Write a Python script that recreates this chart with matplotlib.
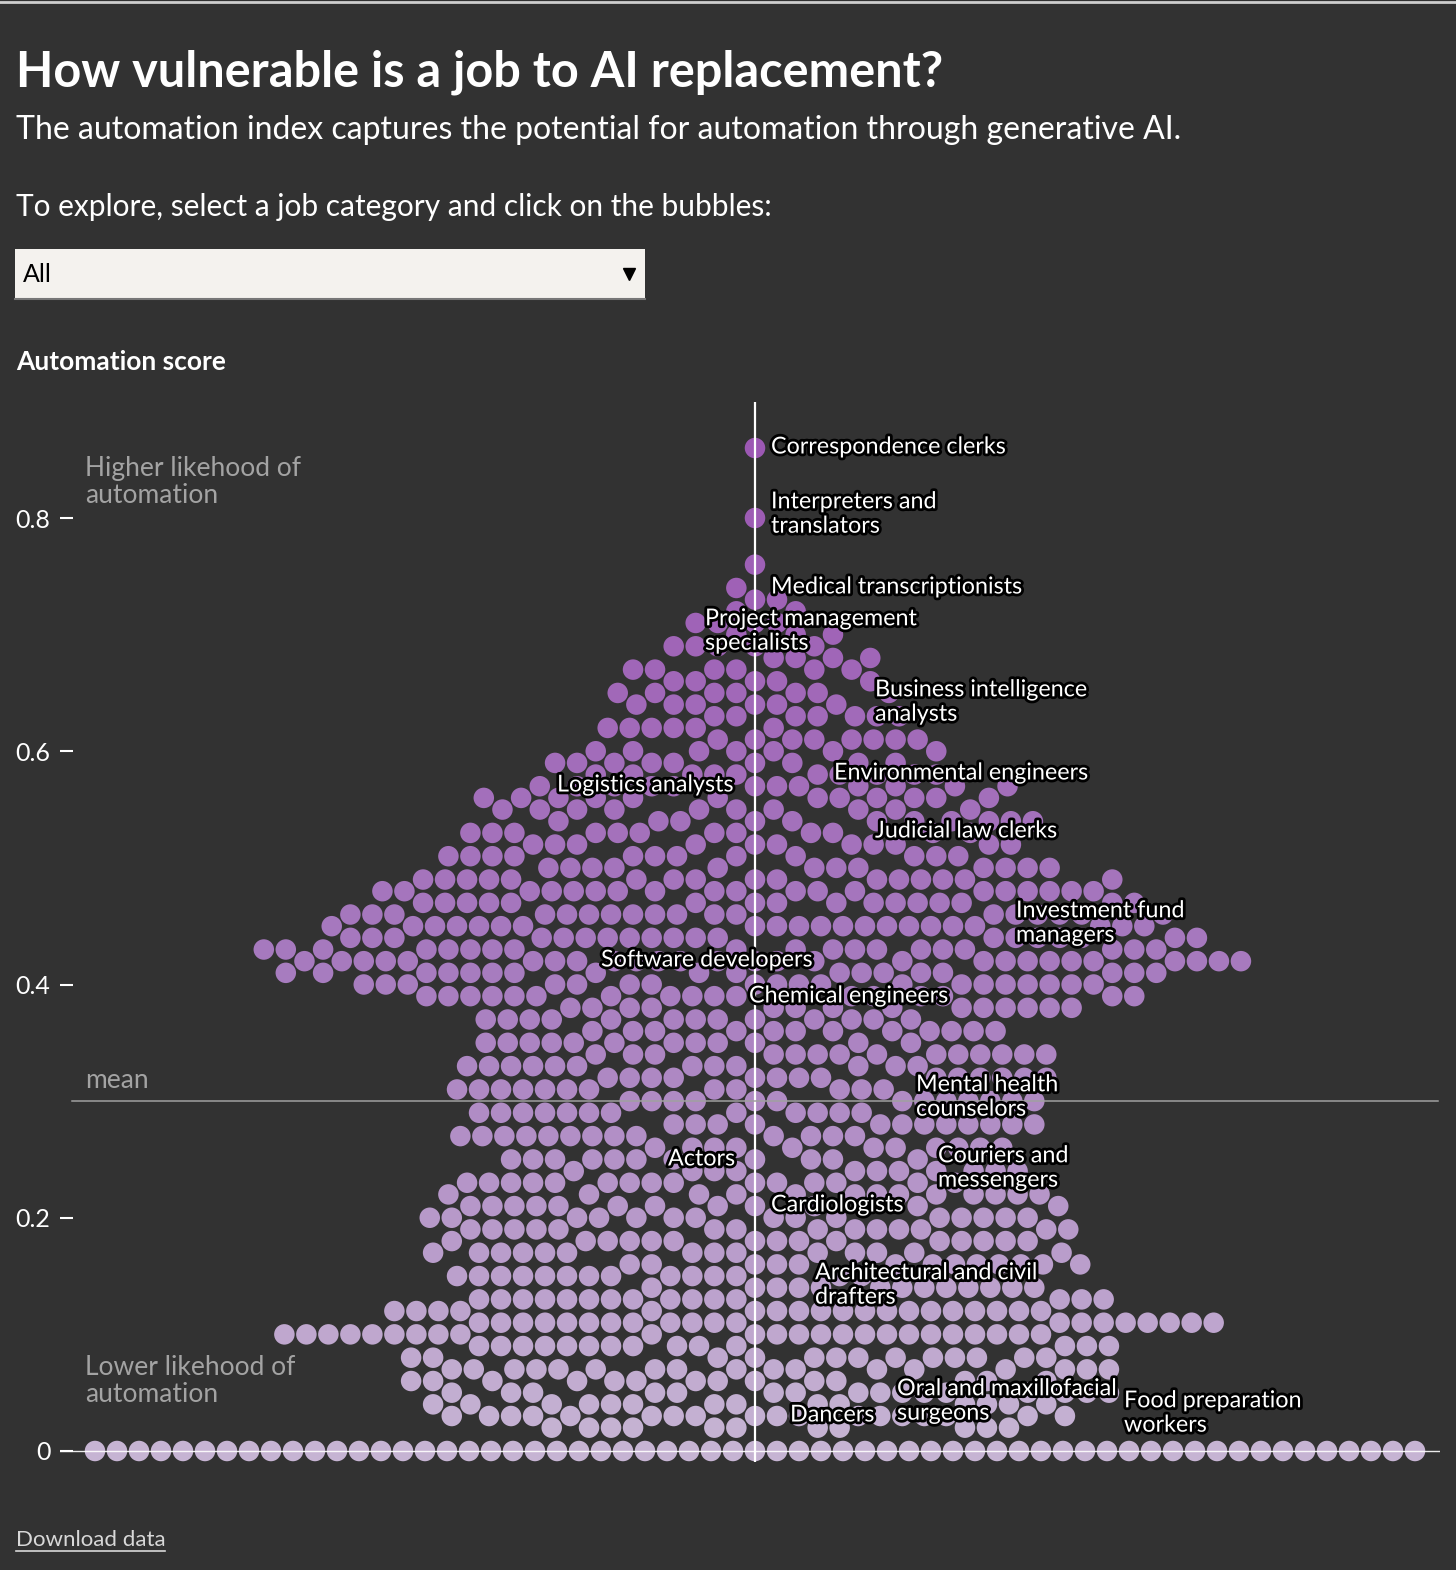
import numpy as np
import matplotlib
matplotlib.use("Agg")
import matplotlib.pyplot as plt
import matplotlib.patheffects as pe
from matplotlib.colors import LinearSegmentedColormap

# automation score levels and number of jobs at each level
scores = [0.00, 0.02, 0.03, 0.04, 0.05, 0.06, 0.07, 0.08, 0.09, 0.10,
          0.11, 0.12, 0.13, 0.14, 0.15, 0.16, 0.17, 0.18, 0.19, 0.20,
          0.21, 0.22, 0.23, 0.24, 0.25, 0.26, 0.27, 0.28, 0.29, 0.30,
          0.31, 0.32, 0.33, 0.34, 0.35, 0.36, 0.37, 0.38, 0.39, 0.40,
          0.41, 0.42, 0.43, 0.44, 0.45, 0.46, 0.47, 0.48, 0.49, 0.50,
          0.51, 0.52, 0.53, 0.54, 0.55, 0.56, 0.57, 0.58, 0.59, 0.60,
          0.61, 0.62, 0.63, 0.64, 0.65, 0.66, 0.67, 0.68, 0.69, 0.70,
          0.71, 0.72, 0.73, 0.74, 0.76, 0.80, 0.86]
counts = [61, 11, 18, 14, 16, 14, 17, 13, 14, 24,
          20, 19, 15, 13, 14, 13, 14, 15, 14, 15,
          12, 13, 15, 11, 11, 11, 13, 12, 12, 13,
          12, 14, 12, 14, 12, 12, 13, 14, 17, 19,
          18, 27, 19, 19, 21, 18, 16, 19, 16, 12,
          12, 11, 12, 11, 10, 12, 12, 10, 9, 7,
          8, 6, 7, 6, 7, 5, 6, 4, 5, 3,
          4, 2, 2, 1, 1, 1, 1]
mean_score = 0.30

yticks = [0, 0.2, 0.4, 0.6, 0.8]
ytick_labels = ["0", "0.2", "0.4", "0.6", "0.8"]

labels = [
    ("Correspondence clerks", 771, 447),
    ("Interpreters and\ntranslators", 771, 514),
    ("Medical transcriptionists", 771, 587),
    ("Project management\nspecialists", 705, 631),
    ("Business intelligence\nanalysts", 875, 702),
    ("Environmental engineers", 834, 773),
    ("Logistics analysts", 557, 785),
    ("Judicial law clerks", 875, 831),
    ("Investment fund\nmanagers", 1016, 923),
    ("Software developers", 601, 960),
    ("Chemical engineers", 749, 996),
    ("Mental health\ncounselors", 916, 1097),
    ("Couriers and\nmessengers", 938, 1168),
    ("Actors", 668, 1159),
    ("Cardiologists", 771, 1205),
    ("Architectural and civil\ndrafters", 815, 1285),
    ("Oral and maxillofacial\nsurgeons", 897, 1401),
    ("Dancers", 790, 1415),
    ("Food preparation\nworkers", 1124, 1413),
]

W, H = 1456, 1570
BG = "#323232"
FONT = "Lato"

# pixel geometry of the plot
x_center = 755
y_zero = 1451
px_per_unit = (1451 - 518) / 0.8
dot_d = 22.0


def fx(x):
    return x / W


def fy(y):
    return 1 - y / H


def swarm(y_px, order, d):
    xs = np.zeros(len(y_px))
    px, py = [], []
    for i in order:
        y = y_px[i]
        x = 0.0
        if px:
            ax_ = np.array(px)
            ay = np.array(py)
            m = np.abs(ay - y) < d
            nx, ny = ax_[m], ay[m]
            if len(nx):
                off = np.sqrt(d * d - (ny - y) ** 2)
                c = np.concatenate([[0.0], nx - off, nx + off])
                c = c[np.argsort(np.abs(c), kind="stable")]
                d2 = (c[:, None] - nx[None, :]) ** 2 + (y - ny[None, :]) ** 2
                ok = np.all(d2 >= d * d - 1e-6, axis=1)
                x = c[np.argmax(ok)]
        xs[i] = x
        px.append(x)
        py.append(y)
    return xs


job_scores = np.repeat(scores, counts)
n = len(job_scores)
order = np.argsort((np.arange(n) * 0.6180339887) % 1.0, kind="stable")
# zero-score jobs first so they line up along the baseline
order = np.concatenate([order[job_scores[order] == 0], order[job_scores[order] > 0]])
job_x = swarm(job_scores * px_per_unit, order, dot_d)

fig = plt.figure(figsize=(W / 100, H / 100), dpi=100, facecolor=BG)

ax_left, ax_right, ax_top, ax_bottom = 60, 1440, 395, 1470
ax = fig.add_axes([fx(ax_left), fy(ax_bottom), (ax_right - ax_left) / W, (ax_bottom - ax_top) / H])
ax.set_facecolor(BG)
ax.set_xlim(ax_left - x_center, ax_right - x_center)
ax.set_ylim((y_zero - ax_bottom) / px_per_unit, (y_zero - ax_top) / px_per_unit)
for s in ax.spines.values():
    s.set_visible(False)
ax.set_xticks([])
ax.set_yticks(yticks)
ax.set_yticklabels(ytick_labels)
ax.tick_params(axis="y", direction="in", length=9, width=1.5, color="white",
               labelcolor="white", labelsize=18, pad=7)
for t in ax.get_yticklabels():
    t.set_fontfamily(FONT)

cmap = LinearSegmentedColormap.from_list("purp", ["#c6b4d3", "#a679be", "#9c58b3"])
ax.scatter(job_x, job_scores, s=(20.5 * 0.72) ** 2, c=job_scores, cmap=cmap,
           vmin=0, vmax=0.86, linewidths=0, zorder=2)

ax.plot([0, 0], [(y_zero - 1462) / px_per_unit, (y_zero - 402) / px_per_unit],
        color="white", lw=1.6, zorder=3, solid_capstyle="butt")
ax.plot([72 - x_center, 1438 - x_center], [mean_score, mean_score],
        color="#a0a0a0", lw=1.1, zorder=3)
ax.plot([60 - x_center, 1440 - x_center], [0, 0], color="white", lw=1.0, alpha=0.9, zorder=3)

# chart annotations
halo = [pe.withStroke(linewidth=4, foreground="black")]
for txt, x, y in labels:
    fig.text(fx(x), fy(y), txt, color="white", fontsize=16.8, family=FONT,
             va="center", ha="left", linespacing=1.2, path_effects=halo, zorder=5)

grey = "#a3a3a3"
fig.text(fx(85), fy(482), "Higher likehood of\nautomation", color=grey, fontsize=19,
         family=FONT, va="center", linespacing=1.1)
fig.text(fx(85), fy(1381), "Lower likehood of\nautomation", color=grey, fontsize=19,
         family=FONT, va="center", linespacing=1.1)
fig.text(fx(85), fy(1081), "mean", color=grey, fontsize=19, family=FONT, va="center")

# header
fig.text(fx(16), fy(72), "How vulnerable is a job to AI replacement?", color="white",
         fontsize=35, fontweight="bold", family=FONT, va="center")
fig.text(fx(16), fy(130), "The automation index captures the potential for automation through generative AI.",
         color="white", fontsize=23, family=FONT, va="center")
fig.text(fx(16), fy(207), "To explore, select a job category and click on the bubbles:",
         color="white", fontsize=21.5, family=FONT, va="center")

box = fig.add_axes([fx(15), fy(299), (645 - 15) / W, (299 - 249) / H])
box.set_facecolor("#f4f2ee")
box.set_xticks([])
box.set_yticks([])
for s in box.spines.values():
    s.set_visible(False)
box.spines["bottom"].set_visible(True)
box.spines["bottom"].set_color("#777777")
box.spines["bottom"].set_linewidth(1.5)
box.text(0.012, 0.5, "All", color="black", fontsize=18, family=FONT, va="center",
         transform=box.transAxes)
box.plot([0.974], [0.5], marker="v", color="black", markersize=9, transform=box.transAxes)
box.set_xlim(0, 1)
box.set_ylim(0, 1)

fig.text(fx(16), fy(362), "Automation score", color="white", fontsize=19,
         fontweight="bold", family=FONT, va="center")

fig.text(fx(16), fy(1540), "Download data", color="#d8d8d8", fontsize=16, family=FONT, va="center")
fig.add_artist(plt.Line2D([fx(16), fx(165)], [fy(1551), fy(1551)], color="#d8d8d8", lw=1.2))
fig.add_artist(plt.Line2D([0, 1], [fy(1.5), fy(1.5)], color="#cfcfcf", lw=2))

fig.savefig("out.png", dpi=100, facecolor=BG)
